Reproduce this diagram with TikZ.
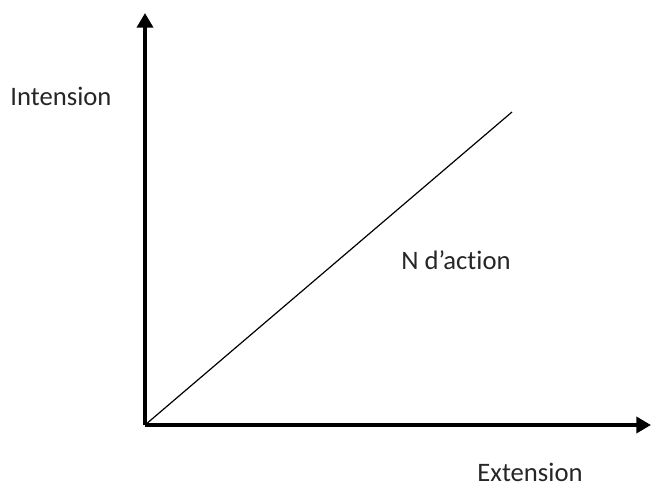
\documentclass[tikz,border=0pt]{standalone}
\usepackage{fontspec}
\setmainfont[Ligatures=NoCommon]{Carlito}
\usetikzlibrary{arrows.meta}
\tikzset{
  axe/.style={line width=3pt, -{Triangle[length=11pt, width=12pt]}},
  droite/.style={line width=0.9pt},
  lbl/.style={inner sep=0pt, text=black!85, font=\fontsize{20}{24}\selectfont},
}

\begin{document}
\begin{tikzpicture}[x=0.75pt, y=-0.75pt]
  \useasboundingbox (0,0) rectangle (651,486);
  \coordinate (o) at (145,425);
  \coordinate (ytop) at (145,13);
  \coordinate (xend) at (651,425);
  \coordinate (dend) at (512,112);
  \draw[axe] (o) -- (ytop);
  \draw[axe] (o) -- (xend);
  \draw[droite] (o) -- (dend);
  \node[lbl] (intension) at (61,96) {Intension};
  \node[lbl] (naction) at (456,260) {N d’action};
  \node[lbl] (extension) at (530,472) {Extension};
\end{tikzpicture}
\end{document}
